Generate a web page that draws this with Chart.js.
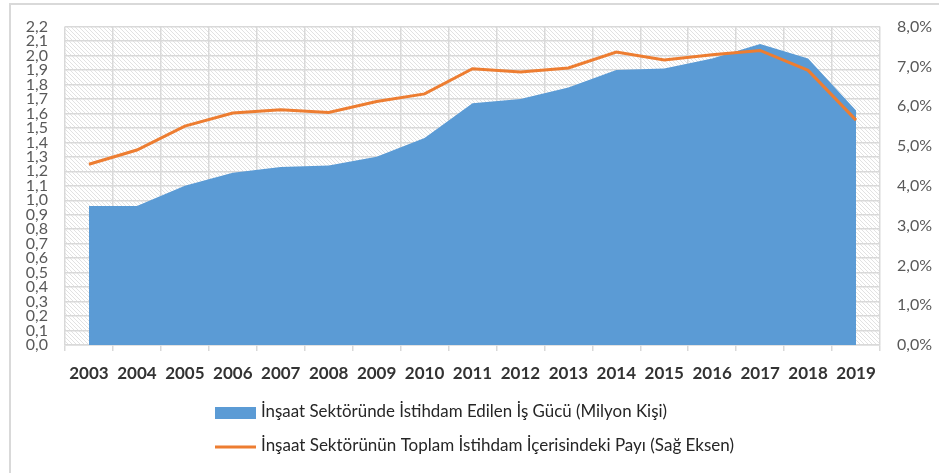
<!DOCTYPE html>
<html>
<head>
<meta charset="utf-8">
<script src="https://cdn.jsdelivr.net/npm/chart.js@4"></script>
<style>
  html, body { margin: 0; padding: 0; background: #fff; }
  #wrap { position: relative; width: 939px; height: 473px; }
</style>
</head>
<body>
<div id="wrap"><canvas id="insaatChart" width="939" height="473"></canvas></div>
<script>
const years = ["2003", "2004", "2005", "2006", "2007", "2008", "2009", "2010", "2011",
  "2012", "2013", "2014", "2015", "2016", "2017", "2018", "2019"];

// milyon kişi (sol eksen)
const workforce = [0.96, 0.96, 1.10, 1.19, 1.23, 1.24, 1.30, 1.43, 1.67,
  1.70, 1.78, 1.90, 1.91, 1.98, 2.08, 1.98, 1.62];

// toplam istihdam içindeki pay, % (sağ eksen)
const share = [4.54, 4.90, 5.50, 5.83, 5.91, 5.84, 6.12, 6.31, 6.94,
  6.86, 6.96, 7.36, 7.16, 7.29, 7.40, 6.90, 5.65];

const seriesLabels = [
  "İnşaat Sektöründe İstihdam Edilen İş Gücü (Milyon Kişi)",
  "İnşaat Sektörünün Toplam İstihdam İçerisindeki Payı (Sağ Eksen)"
];

const BLUE = '#5B9BD5';
const ORANGE = '#ED7D31';
const GRID = '#d9d9d9';

// çapraz taralı arka plan
function hatchPattern(ctx) {
  const c = document.createElement('canvas');
  c.width = 4; c.height = 4;
  const p = c.getContext('2d');
  p.fillStyle = '#fff';
  p.fillRect(0, 0, 4, 4);
  p.strokeStyle = '#e2e2e2';
  p.lineWidth = 1;
  p.beginPath();
  p.moveTo(-1, -1); p.lineTo(5, 5);
  p.moveTo(-1, 3); p.lineTo(1, 5);
  p.moveTo(3, -1); p.lineTo(5, 1);
  p.stroke();
  return ctx.createPattern(c, 'repeat');
}

const backdrop = {
  id: 'backdrop',
  beforeDraw(chart) {
    const { ctx, chartArea: a } = chart;
    ctx.save();
    ctx.strokeStyle = GRID;
    ctx.lineWidth = 2;
    ctx.beginPath();
    ctx.moveTo(10, 473); ctx.lineTo(10, 4); ctx.lineTo(939, 4);
    ctx.stroke();
    ctx.fillStyle = hatchPattern(ctx);
    ctx.fillRect(a.left, a.top, a.right - a.left, a.bottom - a.top);
    ctx.restore();
  }
};

// dikey lejant (Excel düzeni)
const stackedLegend = {
  id: 'stackedLegend',
  afterDraw(chart) {
    const { ctx } = chart;
    const area = chart.data.datasets.find(d => d.yAxisID === 'y');
    const line = chart.data.datasets.find(d => d.yAxisID === 'y1');
    ctx.save();
    ctx.fillStyle = area.backgroundColor;
    ctx.fillRect(215, 407, 41, 12);
    ctx.strokeStyle = line.borderColor;
    ctx.lineWidth = 3;
    ctx.beginPath();
    ctx.moveTo(215, 447); ctx.lineTo(256, 447);
    ctx.stroke();
    ctx.font = '17px Lato';
    ctx.textBaseline = 'middle';
    ctx.fillStyle = '#262626';
    ctx.fillText(area.label, 261, 412, 406);
    ctx.fillText(line.label, 261, 446, 492);
    ctx.restore();
  }
};

const ctx = document.getElementById('insaatChart').getContext('2d');

new Chart(ctx, {
  type: 'line',
  data: {
    labels: years,
    datasets: [
      {
        label: seriesLabels[0],
        data: workforce,
        yAxisID: 'y',
        borderColor: BLUE,
        backgroundColor: BLUE,
        borderWidth: 0,
        pointRadius: 0,
        tension: 0,
        fill: 'origin',
        order: 1
      },
      {
        label: seriesLabels[1],
        data: share,
        yAxisID: 'y1',
        borderColor: ORANGE,
        backgroundColor: ORANGE,
        borderWidth: 3,
        pointRadius: 0,
        tension: 0,
        fill: false,
        order: 0
      }
    ]
  },
  options: {
    responsive: false,
    animation: false,
    events: [],
    layout: { padding: { left: 10, right: 0, top: 25, bottom: 88 } },
    plugins: {
      legend: { display: false },
      tooltip: { enabled: false }
    },
    scales: {
      x: {
        offset: true,
        grid: { offset: true, color: GRID, lineWidth: 1.5, drawTicks: true, tickLength: 6, tickColor: GRID },
        border: { color: GRID, width: 1.5 },
        ticks: { color: '#333', font: { family: 'Lato', size: 17, weight: 'bold' }, padding: 12, maxRotation: 0, autoSkip: false },
        afterFit(s) { s.height = 40; }
      },
      y: {
        position: 'left',
        min: 0,
        max: 2.2,
        grid: { color: GRID, lineWidth: 1.5, drawTicks: false },
        border: { display: false },
        ticks: {
          stepSize: 0.1,
          autoSkip: false,
          padding: 17,
          color: '#595959',
          font: { family: 'Lato', size: 16 },
          callback: v => v.toFixed(1).replace('.', ',')
        },
        afterFit(s) { s.width = 55; }
      },
      y1: {
        position: 'right',
        min: 0,
        max: 8,
        grid: { display: false, drawTicks: false },
        border: { display: false },
        ticks: {
          stepSize: 1,
          padding: 17,
          color: '#595959',
          font: { family: 'Lato', size: 16 },
          callback: v => v.toFixed(1).replace('.', ',') + '%'
        },
        afterFit(s) { s.width = 59; }
      }
    }
  },
  plugins: [backdrop, stackedLegend]
});
</script>
</body>
</html>
